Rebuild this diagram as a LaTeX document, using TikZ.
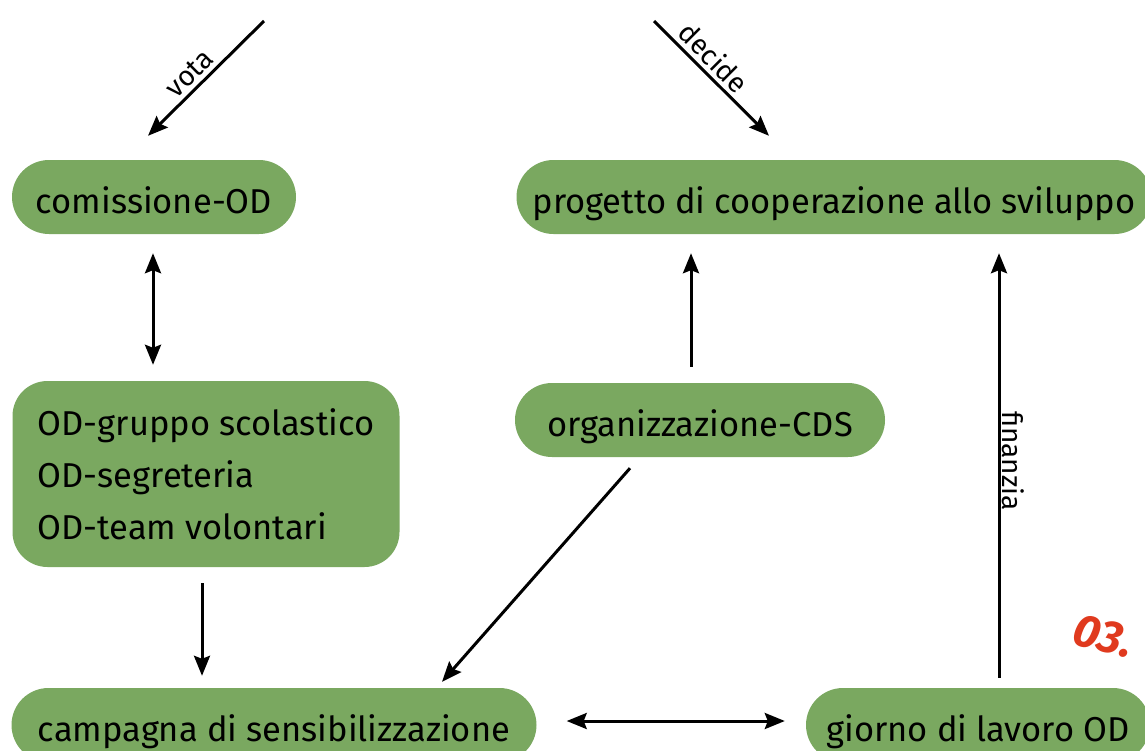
\documentclass[tikz,border=0pt]{standalone}
\usepackage{fontspec}
\setmainfont{Fira Sans}
\usepackage{tikz}
\usetikzlibrary{arrows.meta, calc}
\definecolor{leaf}{RGB}{122,168,96}
\definecolor{stamp}{RGB}{224,58,30}

\begin{document}
\begin{tikzpicture}[x=1pt, y=-1pt,
  box/.style={fill=leaf, rounded corners=37pt, minimum height=74pt,
              inner sep=0pt, font=\fontsize{34.5}{52}\selectfont},
  pill/.style={box, text height=32pt, text depth=0pt},
  link/.style={-{Stealth[length=20pt,width=16pt,inset=3pt]}, line width=3pt},
  both/.style={{Stealth[length=20pt,width=16pt,inset=3pt]}-{Stealth[length=20pt,width=16pt,inset=3pt]},
               line width=3pt},
  tag/.style={font=\fontsize{28}{32}\selectfont, inner sep=4pt}]
  \useasboundingbox (0,0) rectangle (1145,750);
  \clip (0,0) rectangle (1145,750);
  % boxes
  \node[pill, minimum width=284pt] (com) at (154,197) {comissione-OD};
  \node[pill, minimum width=635pt] (proj) at (834,197)
    {progetto di cooperazione allo sviluppo};
  \node[box, rounded corners=35pt, minimum width=387pt, minimum height=186pt,
        align=left] (grp) at (206,474)
    {OD-gruppo scolastico\\OD-segreteria\\OD-team volontari};
  \node[pill, minimum width=370pt] (org) at (700,420) {organizzazione-CDS};
  \node[pill, minimum width=525pt] (camp) at (274,725)
    {campagna di sensibilizzazione};
  \node[pill, minimum width=344pt] (day) at (978,725) {giorno di lavoro OD};
  % loose ends on top
  \coordinate (votaS) at (264,21);
  \coordinate (decS) at (654,21);
  \draw[link] (votaS) -- ($(com.north)+(-6,-24)$)
    node[tag, pos=0.55, sloped, above] {vota};
  \draw[link] (decS) -- ($(proj.north)+(-65,-24)$)
    node[tag, pos=0.42, sloped, above] {decide};
  % arrows between boxes
  \draw[both, shorten <=19pt, shorten >=16pt]
    ([xshift=-1pt]com.south) -- ([xshift=-1pt]com.south |- grp.north);
  \draw[link, shorten <=16pt, shorten >=19pt]
    ([xshift=-9pt]org.north) -- ([xshift=-9pt]org.north |- proj.south);
  \draw[link, shorten <=10pt, shorten >=19pt]
    ([xshift=21pt]day.north) -- ([xshift=21pt]day.north |- proj.south)
    node[tag, midway, rotate=-90, anchor=south, inner sep=2pt] {finanzia};
  \draw[link, shorten <=16pt, shorten >=12pt]
    ([xshift=-4pt]grp.south) -- ([xshift=-4pt]grp.south |- camp.north);
  \draw[link] ($(org.south)+(-70,11)$) -- ($(camp.north)+(168,-6)$);
  \draw[both, shorten <=30pt, shorten >=21pt]
    ([yshift=4pt]camp.east) -- ([yshift=4pt]day.west);
  % red mark at the edge
  \node[stamp, anchor=base west, rotate=-15, inner sep=0pt,
        font=\fontsize{46}{54}\selectfont\bfseries\itshape] (mark)
    at (1070,643) {03.};
\end{tikzpicture}
\end{document}
